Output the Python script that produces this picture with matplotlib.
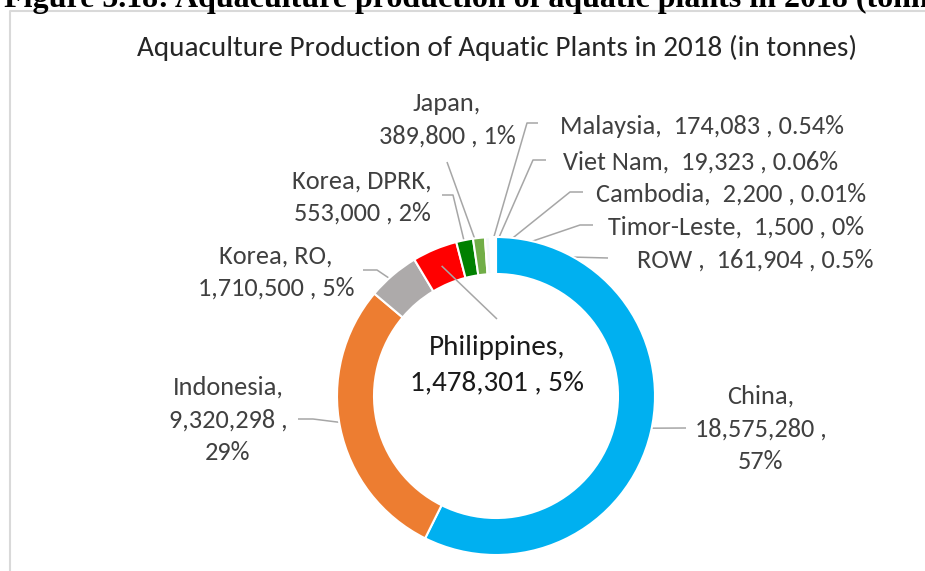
import matplotlib
matplotlib.use('Agg')
import matplotlib.pyplot as plt
from matplotlib import font_manager
import numpy as np

countries = ['China', 'Indonesia', 'Korea, RO', 'Philippines', 'Korea, DPRK', 'Japan',
             'Malaysia', 'Viet Nam', 'Cambodia', 'Timor-Leste', 'ROW']
tonnes = [18575280, 9320298, 1710500, 1478301, 553000, 389800,
          174083, 19323, 2200, 1500, 161904]
pct_labels = ['57%', '29%', '5%', '5%', '2%', '1%', '0.54%', '0.06%', '0.01%', '0%', '0.5%']
colors = ['#00B0F0', '#ED7D31', '#ADAAAA', '#FF0000', '#008000', '#70AD47',
          '#F4F8FC', '#1F4E79', '#F4B0B0', '#C00000', '#FFFFFF']

title = 'Aquaculture Production of Aquatic Plants in 2018 (in tonnes)'
header = 'Figure 5.18: Aquaculture production of aquatic plants in 2018 (tonnes)'

avail = {f.name for f in font_manager.fontManager.ttflist}
FONT = 'Carlito' if 'Carlito' in avail else 'Lato'
plt.rcParams['font.family'] = [FONT, 'DejaVu Sans']

W, H = 925, 571
fig = plt.figure(figsize=(W / 100, H / 100), dpi=100)
ax = fig.add_axes([0, 0, 1, 1])

def Y(y):
    return H - y

CX, CY, R, RW = 496, 396, 159, 37
wedges, _ = ax.pie(tonnes, colors=colors, startangle=90, counterclock=False,
                   center=(CX, Y(CY)), radius=R,
                   wedgeprops=dict(width=RW, edgecolor='white', linewidth=1.5))
ax.set_xlim(0, W)
ax.set_ylim(0, H)
ax.set_aspect('auto')
ax.axis('off')

TXT = '#404040'
LC = '#A6A6A6'
FS = 19

# label layout: text position (px), alignment, template, leader path points (px, label side first)
layout = {
    'China':       (761, 429, 'center', '{n},\n{v} ,\n{p}', [(686, 428)]),
    'Indonesia':   (228, 420, 'center', '{n},\n{v} ,\n{p}', [(298, 419), (313, 419)]),
    'Korea, RO':   (276, 272, 'center', '{n},\n{v} , {p}', [(363, 270), (377, 270)]),
    'Korea, DPRK': (362, 197, 'center', '{n},\n{v} , {p}', [(442, 195), (453, 195)]),
    'Japan':       (447, 120, 'center', '{n},\n{v} , {p}', [(447, 162)]),
    'Malaysia':    (560, 127, 'left', '{n},  {v} , {p}', [(538, 123), (527, 123)]),
    'Viet Nam':    (563, 162, 'left', '{n},  {v} , {p}', [(546, 160), (533, 160)]),
    'Cambodia':    (596, 194, 'left', '{n},  {v} , {p}', [(583, 192), (570, 192)]),
    'Timor-Leste': (608, 227, 'left', '{n},  {v} , {p}', [(593, 225), (580, 225)]),
    'ROW':         (637, 260, 'left', '{n} ,  {v} , {p}', [(608, 258)]),
}

for w, name, val, pct in zip(wedges, countries, tonnes, pct_labels):
    mid = np.deg2rad((w.theta1 + w.theta2) / 2)
    r = R - RW / 2 + 0.5
    ex, ey = CX + r * np.cos(mid), Y(CY) + r * np.sin(mid)
    if name == 'Philippines':
        ax.plot([ex, 497], [ey, Y(319)], color=LC, lw=1.1, solid_capstyle='butt')
        ax.text(497, Y(365), '{},\n{} , {}'.format(name, f'{val:,}', pct), ha='center', va='center',
                fontsize=21, color='#1A1A1A', linespacing=1.5)
        continue
    tx, ty, ha, tmpl, path = layout[name]
    xs = [p[0] for p in path] + [ex]
    ys = [Y(p[1]) for p in path] + [ey]
    ax.plot(xs, ys, color=LC, lw=1.1, solid_capstyle='butt', zorder=0.5)
    ax.text(tx, Y(ty), tmpl.format(n=name, v=f'{val:,}', p=pct), ha=ha, va='center',
            multialignment='center', fontsize=FS, color=TXT, linespacing=1.5)

ax.text(497, Y(48), title, ha='center', va='center', fontsize=21, color='#262626')

# frame and header
ax.plot([9.5, 9.5, W + 5], [-5, Y(10.5), Y(10.5)], color='#D9D9D9', lw=1.5, clip_on=False)
ax.text(4, Y(7), header, ha='left', va='baseline', fontsize=23, fontweight='bold',
        family=['Liberation Serif', 'DejaVu Serif'], color='black')

fig.savefig('out.png', dpi=100)
